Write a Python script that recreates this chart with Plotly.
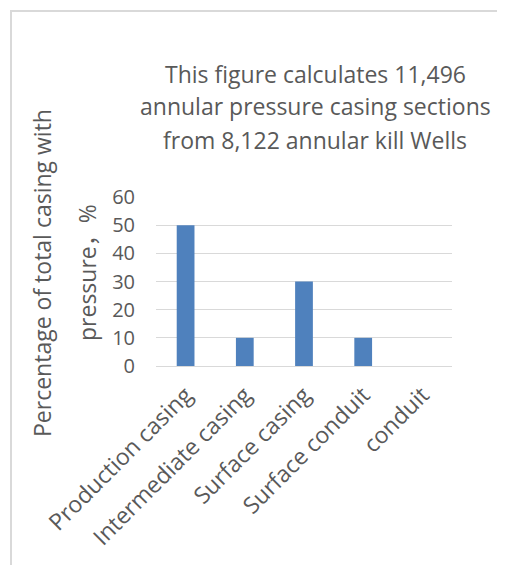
import plotly.graph_objects as go

categories = ["Production casing", "Intermediate casing", "Surface casing", "Surface conduit", "conduit"]
values = [50, 10, 30, 10, 0]
title_lines = ["This figure calculates 11,496", "annular pressure casing sections", "from 8,122 annular kill Wells"]
ytitle_lines = ["Percentage of total casing with", "pressure，%"]

OFF = 8  # default page body margin
W, H = 505 - OFF, 565 - OFF
L, R, T, B = 156 - OFF, 452 - OFF, 197 - OFF, 366 - OFF
FONT = "Open Sans, Noto Sans CJK SC"
COL = "#595959"

def px(x):
    return (x - OFF - L) / (R - L)

def py(y):
    return (B - (y - OFF)) / (B - T)

fig = go.Figure(go.Bar(x=categories, y=values, marker_color="#4f81bd", marker_line_width=0))

ann = []
for yy, t in zip([74, 106, 140], title_lines):
    ann.append(dict(text=t, x=px(315), y=py(yy), xref="paper", yref="paper",
                    xanchor="center", yanchor="middle", showarrow=False,
                    font=dict(family=FONT, size=23, color=COL)))
for xx, t in zip([42, 87], ytitle_lines):
    ann.append(dict(text=t, x=px(xx), y=py(273), xref="paper", yref="paper",
                    xanchor="center", yanchor="middle", showarrow=False, textangle=-90,
                    font=dict(family=FONT, size=23, color=COL)))

fig.update_layout(
    width=W, height=H,
    margin=dict(l=L, r=W - R, t=T, b=H - B, pad=0),
    paper_bgcolor="white", plot_bgcolor="white",
    showlegend=False, bargap=0.7,
    font=dict(family=FONT, color=COL, size=18),
    annotations=ann,
    shapes=[dict(type="rect", xref="paper", yref="paper",
                 x0=px(11), x1=px(530), y0=py(590), y1=py(11),
                 line=dict(color="#d9d9d9", width=2), fillcolor="rgba(0,0,0,0)", layer="below")],
    xaxis=dict(tickangle=-45, tickfont=dict(family=FONT, size=23, color=COL),
               showgrid=False, showline=False, ticks="", ticklabelstandoff=10),
    yaxis=dict(range=[0, 60], dtick=10, tickfont=dict(family=FONT, size=20, color=COL),
               showgrid=True, gridcolor="#d9d9d9", gridwidth=1, zeroline=True,
               zerolinecolor="#d9d9d9", zerolinewidth=1, showline=False,
               ticks="", ticklabelstandoff=20),
)

fig.write_html("out.html")
